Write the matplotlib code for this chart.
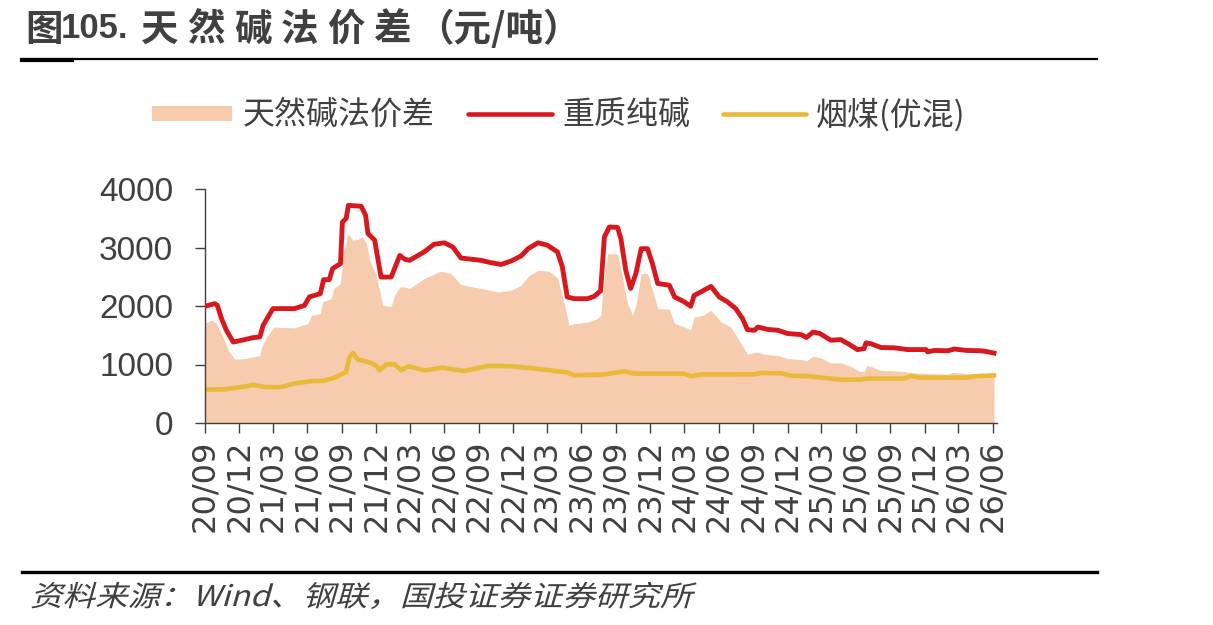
import matplotlib
matplotlib.use("Agg")
import matplotlib.pyplot as plt
import pandas as pd
from matplotlib.lines import Line2D
from matplotlib.patches import Rectangle, PathPatch
from matplotlib.textpath import TextPath
from matplotlib.font_manager import FontProperties
from matplotlib.transforms import Affine2D

# ---------------- data ----------------
spread_dates = ["2020-09-01","2020-09-18","2020-10-01","2020-10-15","2020-11-02","2020-11-19","2020-12-16",
    "2021-01-25","2021-01-30","2021-02-12","2021-03-04","2021-04-27","2021-06-02","2021-06-11","2021-07-05",
    "2021-07-11","2021-08-03","2021-08-10","2021-08-28","2021-09-04","2021-09-17","2021-09-30","2021-10-13",
    "2021-10-26","2021-11-05","2021-11-14","2021-12-01","2021-12-19","2022-01-10","2022-01-19","2022-02-02",
    "2022-02-15","2022-02-28","2022-04-08","2022-05-22","2022-06-18","2022-07-15","2022-09-07","2022-10-21",
    "2022-11-26","2022-12-22","2023-01-10","2023-02-05","2023-03-06","2023-03-29","2023-04-16","2023-04-29",
    "2023-05-12","2023-06-17","2023-07-13","2023-07-22","2023-08-01","2023-08-10","2023-09-05","2023-09-18",
    "2023-10-02","2023-10-15","2023-10-24","2023-11-07","2023-11-24","2023-12-07","2023-12-21","2024-01-21",
    "2024-02-04","2024-03-01","2024-03-18","2024-03-27","2024-04-18","2024-05-11","2024-06-07","2024-07-03",
    "2024-07-30","2024-08-16","2024-09-13","2024-09-30","2024-11-05","2024-12-01","2025-01-07","2025-01-20",
    "2025-02-07","2025-03-01","2025-03-26","2025-04-22","2025-05-18","2025-06-10","2025-06-23","2025-06-30",
    "2025-07-15","2025-08-07","2025-09-30","2025-11-04","2025-12-09","2026-02-01","2026-02-15","2026-03-24",
    "2026-06-04"]
spread_values = [1710,1755,1710,1530,1245,1090,1100,
    1155,1300,1470,1640,1625,1700,1840,1870,
    2070,2125,2300,2385,2895,3240,3125,3140,
    3180,3065,2780,2525,2010,1990,2180,2325,
    2325,2300,2470,2595,2555,2365,2300,2240,
    2270,2355,2510,2610,2595,2485,2040,1670,
    1700,1725,1785,1840,2495,2895,2885,2495,
    2040,1840,2010,2555,2555,2270,1955,1945,
    1700,1640,1595,1810,1840,1925,1725,1640,
    1355,1175,1215,1175,1155,1100,1085,1060,
    1140,1110,1025,1030,970,885,875,985,
    955,900,885,855,845,835,865,845,
    845]

soda_dates = ["2020-09-01","2020-09-27","2020-10-04","2020-10-15","2020-10-28","2020-11-15","2020-11-28",
    "2021-01-08","2021-01-25","2021-02-03","2021-03-01","2021-04-27","2021-05-24","2021-06-06","2021-07-05",
    "2021-07-14","2021-07-29","2021-08-07","2021-08-28","2021-09-02","2021-09-12","2021-09-18","2021-10-22",
    "2021-11-03","2021-11-09","2021-11-27","2021-12-14","2022-01-10","2022-02-02","2022-02-15","2022-02-28",
    "2022-04-08","2022-05-04","2022-06-01","2022-06-23","2022-07-15","2022-09-07","2022-10-03","2022-10-30",
    "2022-11-26","2022-12-22","2023-01-10","2023-02-05","2023-03-02","2023-03-29","2023-04-11","2023-04-24",
    "2023-05-12","2023-06-17","2023-07-05","2023-07-22","2023-08-01","2023-08-14","2023-09-05","2023-09-14",
    "2023-09-27","2023-10-10","2023-10-24","2023-11-07","2023-11-24","2023-12-07","2023-12-21","2024-01-21",
    "2024-02-04","2024-03-01","2024-03-18","2024-03-27","2024-04-14","2024-05-11","2024-06-02","2024-06-24",
    "2024-07-16","2024-08-03","2024-08-16","2024-09-04","2024-09-13","2024-10-09","2024-11-05","2024-12-01",
    "2025-01-07","2025-01-20","2025-02-07","2025-02-25","2025-03-26","2025-04-22","2025-05-14","2025-06-05",
    "2025-06-23","2025-06-28","2025-07-11","2025-08-07","2025-09-12","2025-10-17","2025-12-05","2025-12-09",
    "2025-12-27","2026-02-01","2026-02-19","2026-03-24","2026-04-29","2026-05-12","2026-06-04"]
soda_values = [1995,2040,2010,1785,1585,1385,1400,
    1460,1470,1670,1955,1955,2010,2155,2210,
    2450,2450,2640,2725,3435,3495,3720,3705,
    3550,3240,3125,2495,2495,2865,2800,2780,
    2925,3055,3080,3010,2820,2780,2740,2710,
    2770,2855,2980,3080,3040,2925,2670,2155,
    2125,2125,2165,2260,3180,3350,3345,3150,
    2610,2300,2555,2980,2980,2725,2385,2355,
    2155,2070,1995,2180,2240,2335,2155,2070,
    1955,1785,1595,1585,1640,1600,1585,1530,
    1510,1460,1555,1530,1415,1425,1345,1255,
    1270,1370,1355,1290,1285,1255,1255,1215,
    1240,1235,1265,1240,1235,1225,1195]

coal_dates = ["2020-09-01","2020-10-23","2020-12-07","2021-01-08","2021-02-08","2021-03-22","2021-04-27",
    "2021-06-11","2021-07-11","2021-08-12","2021-09-12","2021-09-21","2021-09-30","2021-10-13","2021-11-09",
    "2021-12-01","2021-12-10","2021-12-28","2022-01-19","2022-02-06","2022-02-24","2022-04-08","2022-05-27",
    "2022-07-24","2022-09-25","2022-11-26","2023-02-05","2023-04-24","2023-05-12","2023-08-01","2023-09-23",
    "2023-10-19","2024-03-01","2024-03-18","2024-04-14","2024-09-04","2024-09-22","2024-11-14","2024-12-10",
    "2025-01-24","2025-03-01","2025-04-26","2025-06-14","2025-06-28","2025-10-08","2025-10-26","2025-11-17",
    "2026-03-24","2026-04-16","2026-06-04"]
coal_values = [570,575,615,650,615,615,675,
    715,720,775,870,1130,1195,1085,1045,
    985,900,1005,1005,900,970,900,945,
    890,975,970,925,865,815,830,885,
    845,845,800,830,832,855,850,810,
    800,775,740,740,760,760,805,775,
    775,800,815]

legend_labels = ["天然碱法价差", "重质纯碱", "烟煤(优混)"]
title_fig = "图"
title_num = "105."
title_chars = ["天", "然", "碱", "法", "价", "差"]
title_tail = "（元/吨）"
source_text = "资料来源：Wind、钢联，国投证券证券研究所"
y_ticks = [0, 1000, 2000, 3000, 4000]
tick_start, tick_end = "2020-09-01", "2026-06-01"

# ---------------- style ----------------
C_AREA = "#F7CBAE"
C_RED = "#D7191F"
C_YEL = "#E9B93A"
C_TXT = "#404040"
CJK = ["Noto Sans CJK SC", "DejaVu Sans"]
plt.rcParams["font.family"] = CJK

W, H, DPI = 1213, 625, 100
fig = plt.figure(figsize=(W / DPI, H / DPI), dpi=DPI)

def fx(px):
    return px / W

def fy(py):
    return 1 - py / H

# axes: x 205..997, y 189..423
ax = fig.add_axes([fx(205), fy(423), fx(997) - fx(205), fy(189) - fy(423)])

sd = pd.to_datetime(spread_dates)
rd = pd.to_datetime(soda_dates)
cd = pd.to_datetime(coal_dates)

ax.fill_between(sd, 0, spread_values, color=C_AREA, lw=0, zorder=1)
ax.plot(rd, soda_values, color=C_RED, lw=3.5, zorder=3, solid_joinstyle="round")
ax.plot(cd, coal_values, color=C_YEL, lw=3.3, zorder=2, solid_joinstyle="round")

ax.set_xlim(pd.Timestamp("2020-09-01"), pd.Timestamp("2026-06-12"))
ax.set_ylim(0, 4000)

xt = pd.date_range(tick_start, tick_end, freq="3MS")
ax.set_xticks(xt)
ax.set_xticklabels([d.strftime("%y/%m") for d in xt], rotation=90,
                   fontfamily="DejaVu Sans", fontsize=23, color=C_TXT)
ax.set_yticks(y_ticks)
ax.set_yticklabels([str(v) for v in y_ticks], fontfamily="Liberation Sans",
                   fontsize=24, color=C_TXT)
ax.tick_params(axis="both", direction="out", length=7, width=1.0, color=C_TXT)
ax.tick_params(axis="y", pad=16)
ax.tick_params(axis="x", pad=5)

for s in ["top", "right"]:
    ax.spines[s].set_visible(False)
for s in ["left", "bottom"]:
    ax.spines[s].set_color(C_TXT)
    ax.spines[s].set_linewidth(1.0)

# ---------------- legend (manual) ----------------
fig.add_artist(Rectangle((fx(152), fy(121)), fx(232) - fx(152), fy(106) - fy(121),
                         transform=fig.transFigure, color=C_AREA, lw=0))
fig.text(fx(243), fy(115), legend_labels[0], fontsize=23, color=C_TXT, va="center", ha="left")
fig.add_artist(Line2D([fx(468), fx(552)], [fy(114), fy(114)], transform=fig.transFigure,
                      color=C_RED, lw=3.3, solid_capstyle="round"))
fig.text(fx(562), fy(115), legend_labels[1], fontsize=23, color=C_TXT, va="center", ha="left")
fig.add_artist(Line2D([fx(723), fx(806)], [fy(114), fy(114)], transform=fig.transFigure,
                      color=C_YEL, lw=3.3, solid_capstyle="round"))
fig.text(fx(816), fy(115), legend_labels[2], fontsize=23, color=C_TXT, va="center", ha="left")

# ---------------- title ----------------
fig.text(fx(25), fy(29), title_fig, fontsize=27, fontweight="bold", color=C_TXT,
         va="center", ha="left")
fig.text(fx(61), fy(29), title_num, fontsize=25, fontweight="bold", color=C_TXT,
         va="center", ha="left", fontfamily="Liberation Sans")
for i, ch in enumerate(title_chars):
    fig.text(fx(141 + 46.5 * i), fy(29), ch, fontsize=27, fontweight="bold",
             color=C_TXT, va="center", ha="left")
fig.text(fx(416), fy(29), title_tail, fontsize=27, fontweight="bold", color=C_TXT,
         va="center", ha="left")

# rules
fig.add_artist(Line2D([fx(22), fx(1097)], [fy(59), fy(59)], transform=fig.transFigure,
                      color="black", lw=1.6))
fig.add_artist(Line2D([fx(22), fx(72)], [fy(59.5), fy(59.5)], transform=fig.transFigure,
                      color="black", lw=3.0))
fig.add_artist(Line2D([fx(22), fx(1097)], [fy(572), fy(572)], transform=fig.transFigure,
                      color="black", lw=2.4))

# ---------------- source (slanted) ----------------
fp = FontProperties(family="Noto Sans CJK SC", weight="light")
tp = TextPath((0, 0), source_text, size=20, prop=fp)
tr = Affine2D().skew_deg(14, 0).scale(DPI / 72.0 * 1.17, DPI / 72.0 * 1.03).translate(30, H - 606)
fig.add_artist(PathPatch(tp, transform=tr, color=C_TXT, lw=0))

fig.savefig("out.png", dpi=DPI)
